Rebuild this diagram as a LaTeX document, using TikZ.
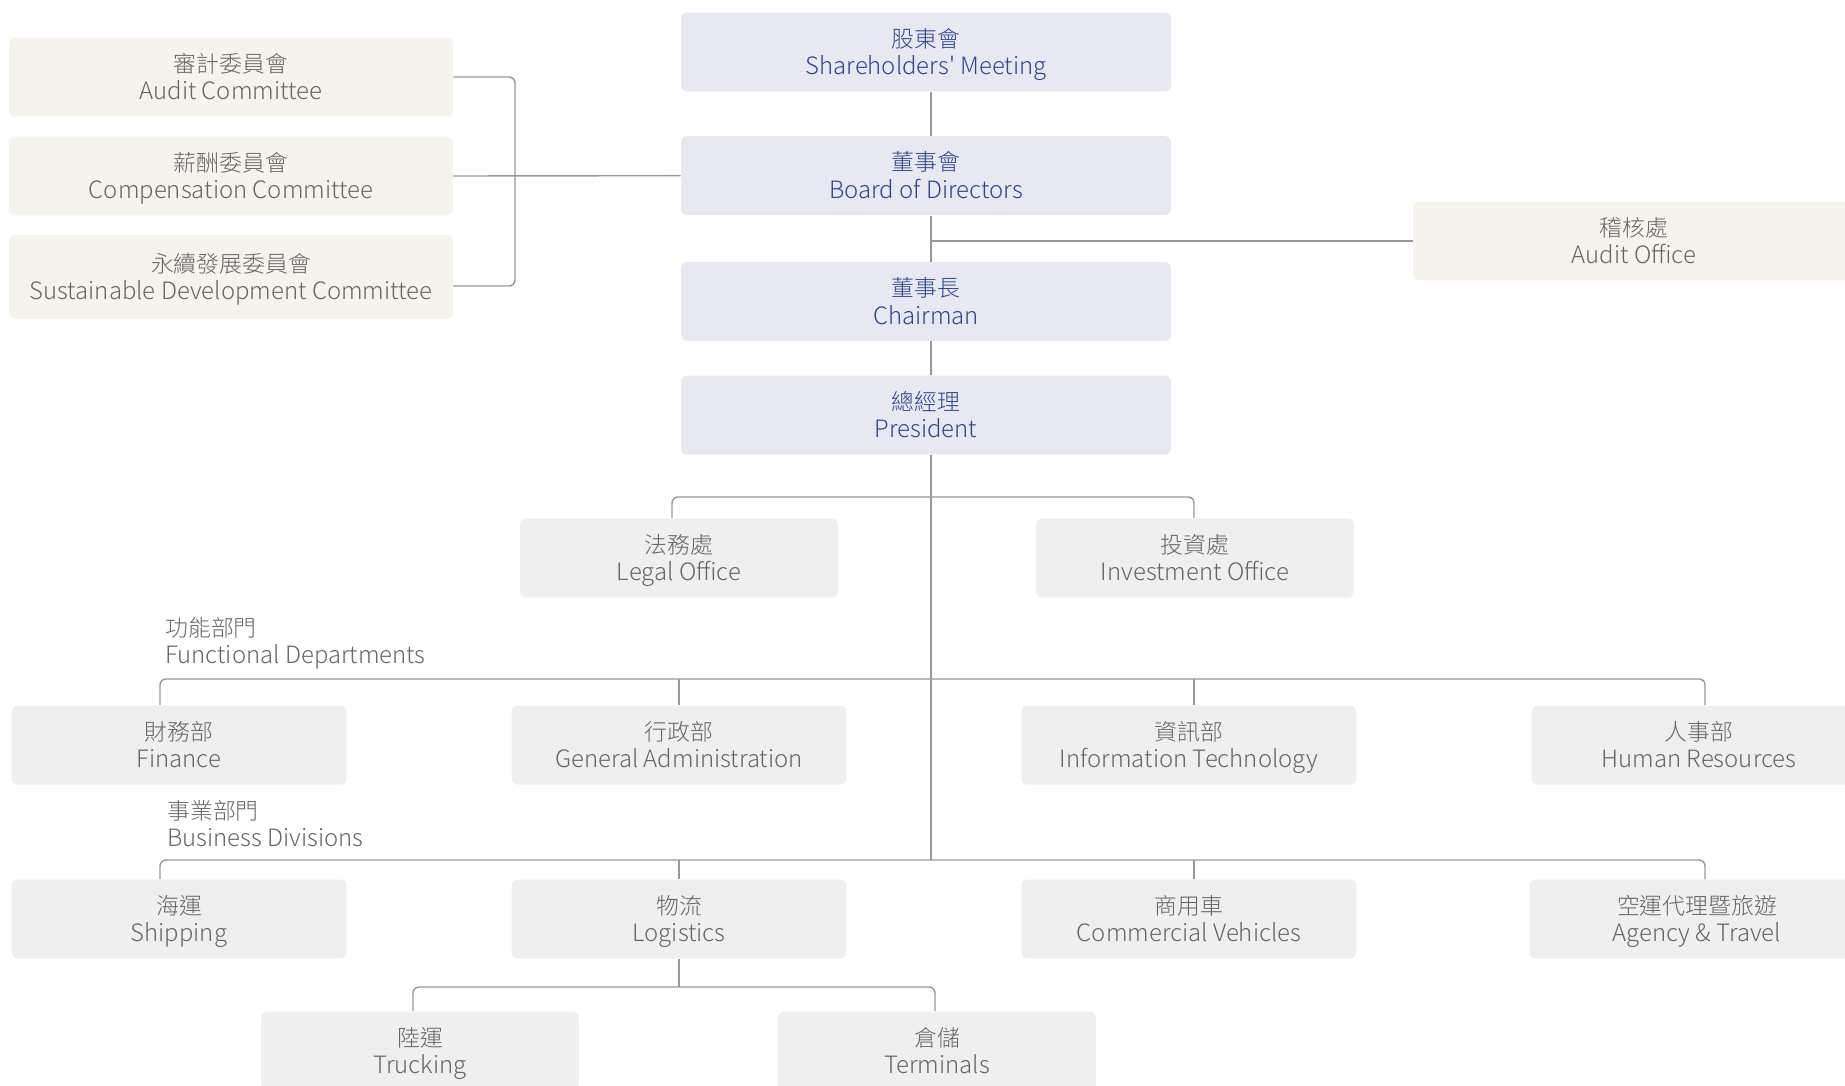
\documentclass[tikz,border=0pt]{standalone}
\usepackage{fontspec}
\setmainfont{Noto Sans CJK TC Light}[Ligatures=TeXOff]
\usetikzlibrary{positioning}
\definecolor{lineGray}{RGB}{152,152,152}
\definecolor{topFill}{RGB}{232,232,242}
\definecolor{topText}{RGB}{46,72,140}
\definecolor{creamFill}{RGB}{245,243,236}
\definecolor{greyFill}{RGB}{239,239,239}
\definecolor{bodyText}{RGB}{102,102,102}
% Chinese name above, English name below
\newcommand{\orgName}[2]{\rule{0pt}{15pt}#1\\\fontsize{13.6}{15.9}\selectfont #2}
\tikzset{
    org_box/.style={
        rounded corners=0.12cm,
        align=center,
        inner sep=0pt,
        font=\fontsize{13}{15.9}\selectfont,
        execute at end node=\strut,
        minimum height=1.58cm
    },
    top_box/.style={
        org_box,
        fill=topFill,
        text=topText,
        minimum width=9.8cm
    },
    comm_box/.style={
        org_box,
        fill=creamFill,
        text=bodyText,
        minimum width=8.88cm
    },
    dept_box/.style={
        org_box,
        fill=greyFill,
        text=bodyText,
        minimum width=6.7cm
    },
    office_box/.style={
        dept_box,
        minimum width=6.36cm
    },
    group_label/.style={
        align=left,
        anchor=west,
        inner sep=0pt,
        text=bodyText,
        execute at end node=\strut,
        font=\fontsize{13}{15.9}\selectfont
    },
    org_link/.style={
        draw=lineGray,
        line width=0.8pt
    },
    bus_link/.style={
        org_link,
        rounded corners=0.12cm
    }
}
\begin{document}
\begin{tikzpicture}[x=0.02cm, y=-0.02cm]
    \clip (0,0) rectangle (1845,1085);
    \useasboundingbox (0,0) rectangle (1845,1085);

    % central column
    \node[top_box] (sh) at (926,52) {\orgName{股東會}{Shareholders' Meeting}};
    \node[top_box, below=0.88cm of sh] (bod) {\orgName{董事會}{Board of Directors}};
    \node[top_box, below=0.92cm of bod] (chair) {\orgName{董事長}{Chairman}};
    \node[top_box, below=0.68cm of chair] (pres) {\orgName{總經理}{President}};

    % committees and audit
    \node[comm_box] (audc) at (231,77) {\orgName{審計委員會}{Audit Committee}};
    \node[comm_box] (comp) at (231,176) {\orgName{薪酬委員會}{Compensation Committee}};
    \node[comm_box, minimum height=1.68cm] (sdc) at (231,277) {\orgName{永續發展委員會}{Sustainable Development Committee}};
    \node[comm_box, minimum width=8.84cm] (audoff) at (1634,241) {\orgName{稽核處}{Audit Office}};

    \node[office_box] (legal) at (679,558) {\orgName{法務處}{Legal Office}};
    \node[office_box] (invest) at (1195,558) {\orgName{投資處}{Investment Office}};

    % functional departments
    \node[group_label] (funcLbl) at (165,641) {\orgName{功能部門}{Functional Departments}};
    \node[dept_box] (fin) at (179,745) {\orgName{財務部}{Finance}};
    \node[dept_box] (ga) at (679,745) {\orgName{行政部}{General Administration}};
    \node[dept_box] (it) at (1189,745) {\orgName{資訊部}{Information Technology}};
    \node[dept_box] (hr) at (1699,745) {\orgName{人事部}{Human Resources}};

    % business divisions
    \node[group_label] (busLbl) at (167,824) {\orgName{事業部門}{Business Divisions}};
    \node[dept_box] (ship) at (179,919) {\orgName{海運}{Shipping}};
    \node[dept_box] (logi) at (679,919) {\orgName{物流}{Logistics}};
    \node[dept_box] (cv) at (1189,919) {\orgName{商用車}{Commercial Vehicles}};
    \node[dept_box] (agency) at (1697,919) {\orgName{空運代理暨旅遊}{Agency \& Travel}};

    \node[office_box] (truck) at (420,1051) {\orgName{陸運}{Trucking}};
    \node[office_box] (term) at (937,1051) {\orgName{倉儲}{Terminals}};

    \coordinate (spine) at (931,0);
    \coordinate (brk) at (515,0);
    \coordinate (sdcIn) at (453,286);
    \coordinate (lbL) at (672,497);
    \coordinate (lbR) at (1194,497);
    \coordinate (fbL) at (160,679);
    \coordinate (fbR) at (1705,679);
    \coordinate (bbL) at (160,860);
    \coordinate (bbR) at (1705,860);
    \coordinate (lgL) at (413,987);
    \coordinate (lgR) at (935,987);

    \draw[org_link] (sh.south -| spine) -- (bod.north -| spine);
    \draw[org_link] (bod.south -| spine) -- (chair.north -| spine);
    \draw[org_link] (chair.south -| spine) -- (pres.north -| spine);
    \draw[org_link] (pres.south -| spine) -- (spine |- bbL);
    \draw[org_link] (spine |- audoff.west) -- (audoff.west);

    \draw[bus_link] (audc.east) -| (brk |- sdcIn) -- (sdcIn);
    \draw[org_link] (comp.east) -- (bod.west);

    \draw[bus_link] (legal.north -| lbL) |- (lbR) -- (invest.north -| lbR);

    \draw[bus_link] (fin.north -| fbL) |- (fbR) -- (hr.north -| fbR);
    \draw[org_link] (ga.north) -- (ga.north |- fbL);
    \draw[org_link] (it.north -| lbR) -- (lbR |- fbL);

    \draw[bus_link] (ship.north -| bbL) |- (bbR) -- (agency.north -| bbR);
    \draw[org_link] (logi.north) -- (logi.north |- bbL);
    \draw[org_link] (cv.north -| lbR) -- (lbR |- bbL);

    \draw[org_link] (logi.south) -- (logi.south |- lgL);
    \draw[bus_link] (truck.north -| lgL) |- (lgR) -- (term.north -| lgR);
\end{tikzpicture}
\end{document}
